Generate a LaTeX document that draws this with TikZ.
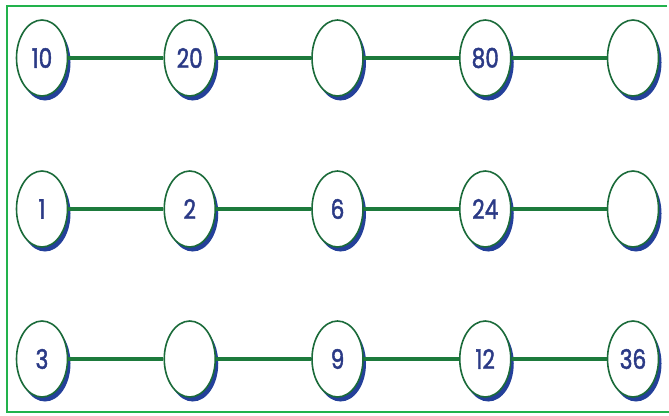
\documentclass[tikz,border=0pt]{standalone}
\usepackage{fontspec}
\newfontfamily\numfont[FakeStretch=0.8,FakeBold=1.6]{Poppins}
\usetikzlibrary{shapes.geometric,shadows}
\definecolor{ringgreen}{HTML}{1B6B3A}
\definecolor{linkgreen}{HTML}{1D7A3C}
\definecolor{framegreen}{HTML}{22B24C}
\definecolor{shadowblue}{HTML}{24409A}
\definecolor{numblue}{HTML}{2B3A86}

\begin{document}
\begin{tikzpicture}[
					x = 1pt, y = -1pt,
					ring/.style = {ellipse, draw=ringgreen, line width=1.6pt, fill=white,
						minimum width=51pt, minimum height=76pt, inner sep=0pt,
						text=numblue, font=\numfont\fontsize{27}{27}\selectfont,
						drop shadow={shadow xshift=3pt, shadow yshift=-4.5pt, fill=shadowblue, opacity=1}},
					link/.style = {draw=linkgreen, line width=4.5pt},
					frame/.style = {draw=framegreen, line width=2pt}
					]

					\def\colstep{147.75}

					\useasboundingbox (0,0) rectangle (669,415);
					\draw[frame] (667,5.5) -- (7,5.5) -- (7,412) -- (669,412);

					\foreach \r/\y/\labels in {1/58/{10,20,{},80,{}}, 2/209/{1,2,6,24,{}}, 3/359/{3,{},9,12,36}}{
						\foreach \lbl [count=\i] in \labels
							\node[ring] (r\r c\i) at ({42+(\i-1)*\colstep},\y) {\lbl};
						\foreach \i/\j in {1/2,2/3,3/4,4/5}
							\draw[link] (r\r c\i) -- (r\r c\j);
					}

				\end{tikzpicture}
\end{document}
